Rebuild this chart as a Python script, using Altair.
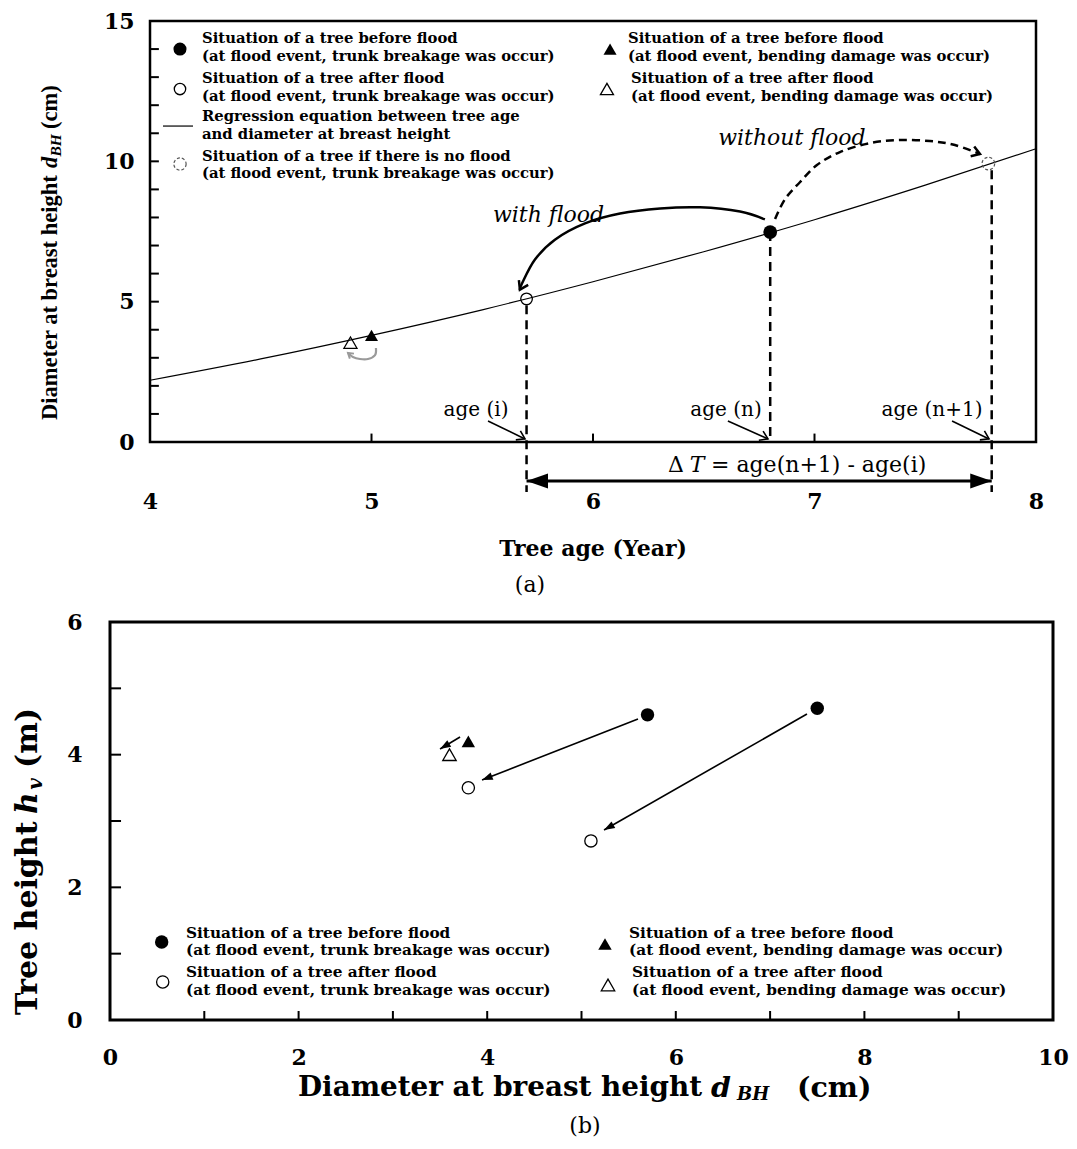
import altair as alt
import pandas as pd

SERIF = "DejaVu Serif"
TIMES = "Liberation Serif"

# ------------------------------------------------------------------
# values
# ------------------------------------------------------------------
# (a) regression curve: tree age (year) vs diameter at breast height (cm)
reg_age = [4.0, 4.5, 5.0, 5.5, 6.0, 6.5, 7.0, 7.5, 8.0]
reg_dbh = [2.20, 2.96, 3.80, 4.71, 5.71, 6.78, 7.92, 9.15, 10.45]

# (a) tree states
a_bt_age, a_bt_dbh = [6.8], [7.48]      # before flood, trunk breakage
a_at_age, a_at_dbh = [5.7], [5.10]      # after flood, trunk breakage
a_nf_age, a_nf_dbh = [7.785], [9.92]    # if there is no flood
a_bb_age, a_bb_dbh = [5.0], [3.80]      # before flood, bending damage
a_ab_age, a_ab_dbh = [4.905], [3.54]    # after flood, bending damage

age_marks = [5.7, 6.8, 7.8]
age_names = ["age (i)", "age (n)", "age (n+1)"]

a_x_ticks = [4, 5, 6, 7, 8]
a_y_ticks = [0, 5, 10, 15]
a_x_minor = [5, 6, 7]
a_y_minor = list(range(1, 15))

# (b) diameter at breast height (cm) vs tree height (m)
b_bt_dbh, b_bt_h = [5.7, 7.5], [4.6, 4.7]   # before flood, trunk breakage
b_at_dbh, b_at_h = [3.8, 5.1], [3.5, 2.7]   # after flood, trunk breakage
b_bb_dbh, b_bb_h = [3.8], [4.2]             # before flood, bending damage
b_ab_dbh, b_ab_h = [3.6], [4.0]             # after flood, bending damage

b_x_ticks = [0, 2, 4, 6, 8, 10]
b_y_ticks = [0, 2, 4, 6]
b_x_minor = [1, 2, 3, 4, 5, 6, 7, 8, 9]
b_y_minor = [1, 2, 3, 4, 5]

# legend texts
txt_bt = ["Situation of a tree before flood", "(at flood event, trunk breakage was occur)"]
txt_at = ["Situation of a tree after flood", "(at flood event, trunk breakage was occur)"]
txt_reg = ["Regression equation between tree age", "and diameter at breast height"]
txt_nf = ["Situation of a tree if there is no flood", "(at flood event, trunk breakage was occur)"]
txt_bb = ["Situation of a tree before flood", "(at flood event, bending damage was occur)"]
txt_ab = ["Situation of a tree after flood", "(at flood event, bending damage was occur)"]

# ------------------------------------------------------------------
# helpers
# ------------------------------------------------------------------
HEAD_FILLED = "M0,0L-2.4,-0.85L-2.4,0.85Z"
HEAD_OPEN = "M-2,-1.3L0,0L-2,1.3"


def points(X, Y, xs, ys, **kw):
    kw.setdefault("opacity", 1)
    return alt.Chart(pd.DataFrame({"x": xs, "y": ys})).mark_point(**kw).encode(x=X, y=Y)


def heads(X, Y, xs, ys, angles, **kw):
    df = pd.DataFrame({"x": xs, "y": ys, "a": angles})
    return alt.Chart(df).mark_point(opacity=1, **kw).encode(
        x=X, y=Y, angle=alt.Angle("a:Q", scale=None))


def rules(X, Y, x1, y1, x2, y2, **kw):
    df = pd.DataFrame({"x": x1, "y": y1, "x2": x2, "y2": y2})
    return alt.Chart(df).mark_rule(**kw).encode(x=X, y=Y, x2="x2", y2="y2")


def path(X, Y, xs, ys, **kw):
    df = pd.DataFrame({"x": xs, "y": ys, "i": list(range(len(xs)))})
    return alt.Chart(df).mark_line(**kw).encode(x=X, y=Y, order="i:Q")


def texts(X, Y, xs, ys, ts, **kw):
    kw.setdefault("color", "black")
    df = pd.DataFrame({"x": xs, "y": ys, "t": ts})
    return alt.Chart(df).mark_text(**kw).encode(x=X, y=Y, text="t:N")


def frame(X, Y, x0, x1, y0, y1, w):
    df = pd.DataFrame({"x": [x0], "x2": [x1], "y": [y0], "y2": [y1]})
    return alt.Chart(df).mark_rect(fill="transparent", stroke="black", strokeWidth=w).encode(
        x=X, x2="x2", y=Y, y2="y2")


def axis(values, pad, offset=0):
    return alt.Axis(values=values, title=None, domain=False, ticks=False, tickSize=0,
                    grid=False, labelPadding=pad, offset=offset, labelFont=SERIF,
                    labelFontSize=22, labelFontWeight="bold", labelColor="black",
                    labelFlush=False, labelOverlap=False, format="d")


LEG_A = dict(font=SERIF, fontSize=14.8, fontWeight="bold", align="left", baseline="middle")
LEG_B = dict(font=SERIF, fontSize=15.3, fontWeight="bold", align="left", baseline="middle")

# ------------------------------------------------------------------
# panel (a)
# ------------------------------------------------------------------
XA = alt.X("x:Q", scale=alt.Scale(domain=[3.8194, 8.0], nice=False, zero=False),
           axis=axis(a_x_ticks, 49))
YA = alt.Y("y:Q", scale=alt.Scale(domain=[0, 15], nice=False, zero=False),
           axis=axis(a_y_ticks, 16, offset=-40))

with_x = [6.776, 6.664, 6.483, 6.303, 6.122, 5.964, 5.828, 5.738, 5.679, 5.670]
with_y = [7.93, 8.21, 8.36, 8.32, 8.14, 7.79, 7.21, 6.50, 5.64, 5.43]
wo_x = [6.822, 6.867, 6.935, 7.011, 7.115, 7.251, 7.386, 7.521, 7.634, 7.747]
wo_y = [7.944, 8.657, 9.263, 9.868, 10.331, 10.652, 10.759, 10.723, 10.581, 10.26]
arc_x = [5.020, 5.016, 4.984, 4.948, 4.916, 4.894]
arc_y = [3.349, 3.099, 2.957, 2.957, 3.028, 3.171]

layers_a = [
    frame(XA, YA, 4, 8, 0, 15, 2.5),
    rules(XA, YA, [4] * len(a_y_minor), a_y_minor, [4.04] * len(a_y_minor), a_y_minor,
          color="black", strokeWidth=2),
    rules(XA, YA, a_x_minor, [0] * 3, a_x_minor, [0.3] * 3, color="black", strokeWidth=2),
    path(XA, YA, reg_age, reg_dbh, color="black", strokeWidth=1.2, interpolate="monotone"),
    # dashed verticals
    rules(XA, YA, age_marks, [4.87, 7.48, 9.68], age_marks, [-1.78, 0, -1.78],
          color="black", strokeWidth=2.5, strokeDash=[9, 6]),
    # delta T double arrow
    rules(XA, YA, [5.7], [-1.39], [7.8], [-1.39], color="black", strokeWidth=3),
    heads(XA, YA, [5.7, 7.8], [-1.39, -1.39], [180, 0], shape=HEAD_FILLED, filled=True,
          color="black", size=320),
    texts(XA, YA, [6.4108], [-0.82], ["\u0394"], font=SERIF, fontSize=22, align="right",
          baseline="middle"),
    texts(XA, YA, [6.4695], [-0.82], ["T"], font=SERIF, fontSize=22, fontStyle="italic",
          align="center", baseline="middle"),
    texts(XA, YA, [6.5327], [-0.82], ["= age(n+1) - age(i)"], font=SERIF, fontSize=22,
          align="left", baseline="middle"),
    # age labels with small arrows
    texts(XA, YA, [5.4718, 6.6005, 7.5305], [1.14] * 3, age_names, font=SERIF, fontSize=20,
          align="center", baseline="middle"),
    rules(XA, YA, [5.526, 6.609, 7.621], [0.75] * 3, [5.693, 6.790, 7.788], [0.11] * 3,
          color="black", strokeWidth=1.6),
    heads(XA, YA, [5.693, 6.790, 7.788], [0.11] * 3, [27, 25, 27], shape=HEAD_OPEN,
          filled=False, color="black", strokeWidth=1.6, size=60),
    # with flood
    path(XA, YA, with_x, with_y, color="black", strokeWidth=2.5, interpolate="cardinal"),
    heads(XA, YA, [with_x[-1]], [with_y[-1]], [117], shape=HEAD_OPEN, filled=False,
          color="black", strokeWidth=2.5, size=64),
    texts(XA, YA, [5.799], [8.09], ["with flood"], font=SERIF, fontSize=22,
          fontStyle="italic", align="center", baseline="middle"),
    # without flood
    path(XA, YA, wo_x, wo_y, color="black", strokeWidth=2.5, strokeDash=[8, 5],
         interpolate="cardinal"),
    heads(XA, YA, [wo_x[-1]], [wo_y[-1]], [20], shape=HEAD_OPEN, filled=False,
          color="black", strokeWidth=2.5, size=64),
    texts(XA, YA, [6.898], [10.83], ["without flood"], font=SERIF, fontSize=22,
          fontStyle="italic", align="center", baseline="middle"),
    # grey arc near the triangles
    path(XA, YA, arc_x, arc_y, color="#9a9a9a", strokeWidth=2.2, interpolate="cardinal"),
    heads(XA, YA, [arc_x[-1]], [arc_y[-1]], [219], shape=HEAD_OPEN, filled=False,
          color="#9a9a9a", strokeWidth=2, size=25),
    # markers
    points(XA, YA, a_bt_age, a_bt_dbh, shape="circle", filled=True, color="black", size=190),
    points(XA, YA, a_at_age, a_at_dbh, shape="circle", filled=False, color="black",
           strokeWidth=1.3, size=135),
    points(XA, YA, a_nf_age, a_nf_dbh, shape="circle", filled=False, color="#555555",
           strokeWidth=1.2, strokeDash=[3, 2], size=160),
    points(XA, YA, a_bb_age, a_bb_dbh, shape="triangle-up", filled=True, color="black",
           size=170),
    points(XA, YA, a_ab_age, a_ab_dbh, shape="triangle-up", filled=False, color="black",
           strokeWidth=1.3, size=170),
    # legend (a)
    points(XA, YA, [4.1354], [14.0], shape="circle", filled=True, color="black", size=170),
    points(XA, YA, [4.1354], [12.576], shape="circle", filled=False, color="black",
           strokeWidth=1.3, size=130),
    rules(XA, YA, [4.0587], [11.257], [4.1941], [11.257], color="black", strokeWidth=1.2),
    points(XA, YA, [4.1354], [9.904], shape="circle", filled=False, color="#555555",
           strokeWidth=1.2, strokeDash=[3, 2], size=150),
    points(XA, YA, [6.077], [14.0], shape="triangle-up", filled=True, color="black", size=170),
    points(XA, YA, [6.063], [12.576], shape="triangle-up", filled=False, color="black",
           strokeWidth=1.3, size=170),
    texts(XA, YA, [4.2348] * 8,
          [14.357, 13.716, 12.932, 12.291, 11.578, 10.937, 10.153, 9.548],
          txt_bt + txt_at + txt_reg + txt_nf, **LEG_A),
    texts(XA, YA, [6.158, 6.158], [14.357, 13.716], txt_bb, **LEG_A),
    texts(XA, YA, [6.172, 6.172], [12.932, 12.291], txt_ab, **LEG_A),
    # axis titles and caption
    texts(XA, YA, [3.5485], [0.784], ["Diameter at breast height"], font=TIMES,
          fontSize=22.5, fontWeight="bold", angle=270, align="left", baseline="middle"),
    texts(XA, YA, [3.5485], [9.76], ["d"], font=TIMES, fontSize=22.5, fontWeight="bold",
          fontStyle="italic", angle=270, align="left", baseline="middle"),
    texts(XA, YA, [3.5756], [10.17], ["BH"], font=TIMES, fontSize=15.5, fontWeight="bold",
          fontStyle="italic", angle=270, align="left", baseline="middle"),
    texts(XA, YA, [3.5485], [11.15], ["(cm)"], font=TIMES, fontSize=22.5, fontWeight="bold",
          angle=270, align="left", baseline="middle"),
    texts(XA, YA, [6.0], [-3.812], ["Tree age (Year)"], font=SERIF, fontSize=22,
          fontWeight="bold", align="center", baseline="middle"),
    texts(XA, YA, [5.7156], [-5.094], ["(a)"], font=SERIF, fontSize=22, align="center",
          baseline="middle"),
]
panel_a = alt.layer(*layers_a).properties(width=926, height=421)

# ------------------------------------------------------------------
# panel (b)
# ------------------------------------------------------------------
XB = alt.X("x:Q", scale=alt.Scale(domain=[0, 10], nice=False, zero=False),
           axis=axis(b_x_ticks, 27))
YB = alt.Y("y:Q", scale=alt.Scale(domain=[0, 6], nice=False, zero=False),
           axis=axis(b_y_ticks, 28))

arr_x1 = [5.599, 7.391, 3.712]
arr_y1 = [4.538, 4.613, 4.267]
arr_x2 = [3.945, 5.239, 3.500]
arr_y2 = [3.618, 2.864, 4.086]

layers_b = [
    frame(XB, YB, 0, 10, 0, 6, 3),
    rules(XB, YB, [0] * 5, b_y_minor, [0.117] * 5, b_y_minor, color="black", strokeWidth=2),
    rules(XB, YB, b_x_minor, [0] * 9, b_x_minor, [0.136] * 9, color="black", strokeWidth=2),
    rules(XB, YB, arr_x1, arr_y1, arr_x2, arr_y2, color="black", strokeWidth=1.6),
    heads(XB, YB, arr_x2, arr_y2, [158.6, 150.3, 149], shape=HEAD_FILLED, filled=True,
          color="black", size=80),
    points(XB, YB, b_bt_dbh, b_bt_h, shape="circle", filled=True, color="black", size=180),
    points(XB, YB, b_at_dbh, b_at_h, shape="circle", filled=False, color="black",
           strokeWidth=1.3, size=150),
    points(XB, YB, b_bb_dbh, b_bb_h, shape="triangle-up", filled=True, color="black", size=180),
    points(XB, YB, b_ab_dbh, b_ab_h, shape="triangle-up", filled=False, color="black",
           strokeWidth=1.3, size=180),
    # legend (b)
    points(XB, YB, [0.548], [1.176], shape="circle", filled=True, color="black", size=180),
    points(XB, YB, [0.559], [0.573], shape="circle", filled=False, color="black",
           strokeWidth=1.3, size=150),
    points(XB, YB, [5.249], [1.146], shape="triangle-up", filled=True, color="black", size=180),
    points(XB, YB, [5.281], [0.528], shape="triangle-up", filled=False, color="black",
           strokeWidth=1.3, size=180),
    texts(XB, YB, [0.806] * 4, [1.312, 1.055, 0.724, 0.452], txt_bt + txt_at, **LEG_B),
    texts(XB, YB, [5.504] * 2, [1.312, 1.055], txt_bb, **LEG_B),
    texts(XB, YB, [5.536] * 2, [0.724, 0.452], txt_ab, **LEG_B),
    # axis titles and caption
    texts(XB, YB, [-0.8696], [0.0754], ["Tree height"], font=SERIF, fontSize=30,
          fontWeight="bold", angle=270, align="left", baseline="middle"),
    texts(XB, YB, [-0.8696], [3.106], ["h"], font=SERIF, fontSize=30, fontWeight="bold",
          fontStyle="italic", angle=270, align="left", baseline="middle"),
    texts(XB, YB, [-0.79], [3.47], ["v"], font=SERIF, fontSize=20, fontWeight="bold",
          fontStyle="italic", angle=270, align="left", baseline="middle"),
    texts(XB, YB, [-0.8696], [3.80], ["(m)"], font=SERIF, fontSize=30, fontWeight="bold",
          angle=270, align="left", baseline="middle"),
    texts(XB, YB, [1.9936], [-1.025], ["Diameter at breast height"], font=SERIF,
          fontSize=27.8, fontWeight="bold", align="left", baseline="middle"),
    texts(XB, YB, [6.373], [-1.025], ["d"], font=SERIF, fontSize=28.5, fontWeight="bold",
          fontStyle="italic", align="left", baseline="middle"),
    texts(XB, YB, [6.649], [-1.131], ["BH"], font=SERIF, fontSize=18, fontWeight="bold",
          fontStyle="italic", align="left", baseline="middle"),
    texts(XB, YB, [7.285], [-1.025], ["(cm)"], font=SERIF, fontSize=28.5, fontWeight="bold",
          align="left", baseline="middle"),
    texts(XB, YB, [5.037], [-1.598], ["(b)"], font=SERIF, fontSize=22, align="center",
          baseline="middle"),
]
panel_b = alt.layer(*layers_b).properties(width=943, height=398)

chart = alt.vconcat(panel_a, panel_b, spacing=180, bounds="flush").properties(
    padding={"left": 4, "top": 2, "right": 0, "bottom": 0},
    background="white",
).configure_view(strokeWidth=0)

chart.save("out.html", embed_options={"renderer": "svg", "actions": False})
